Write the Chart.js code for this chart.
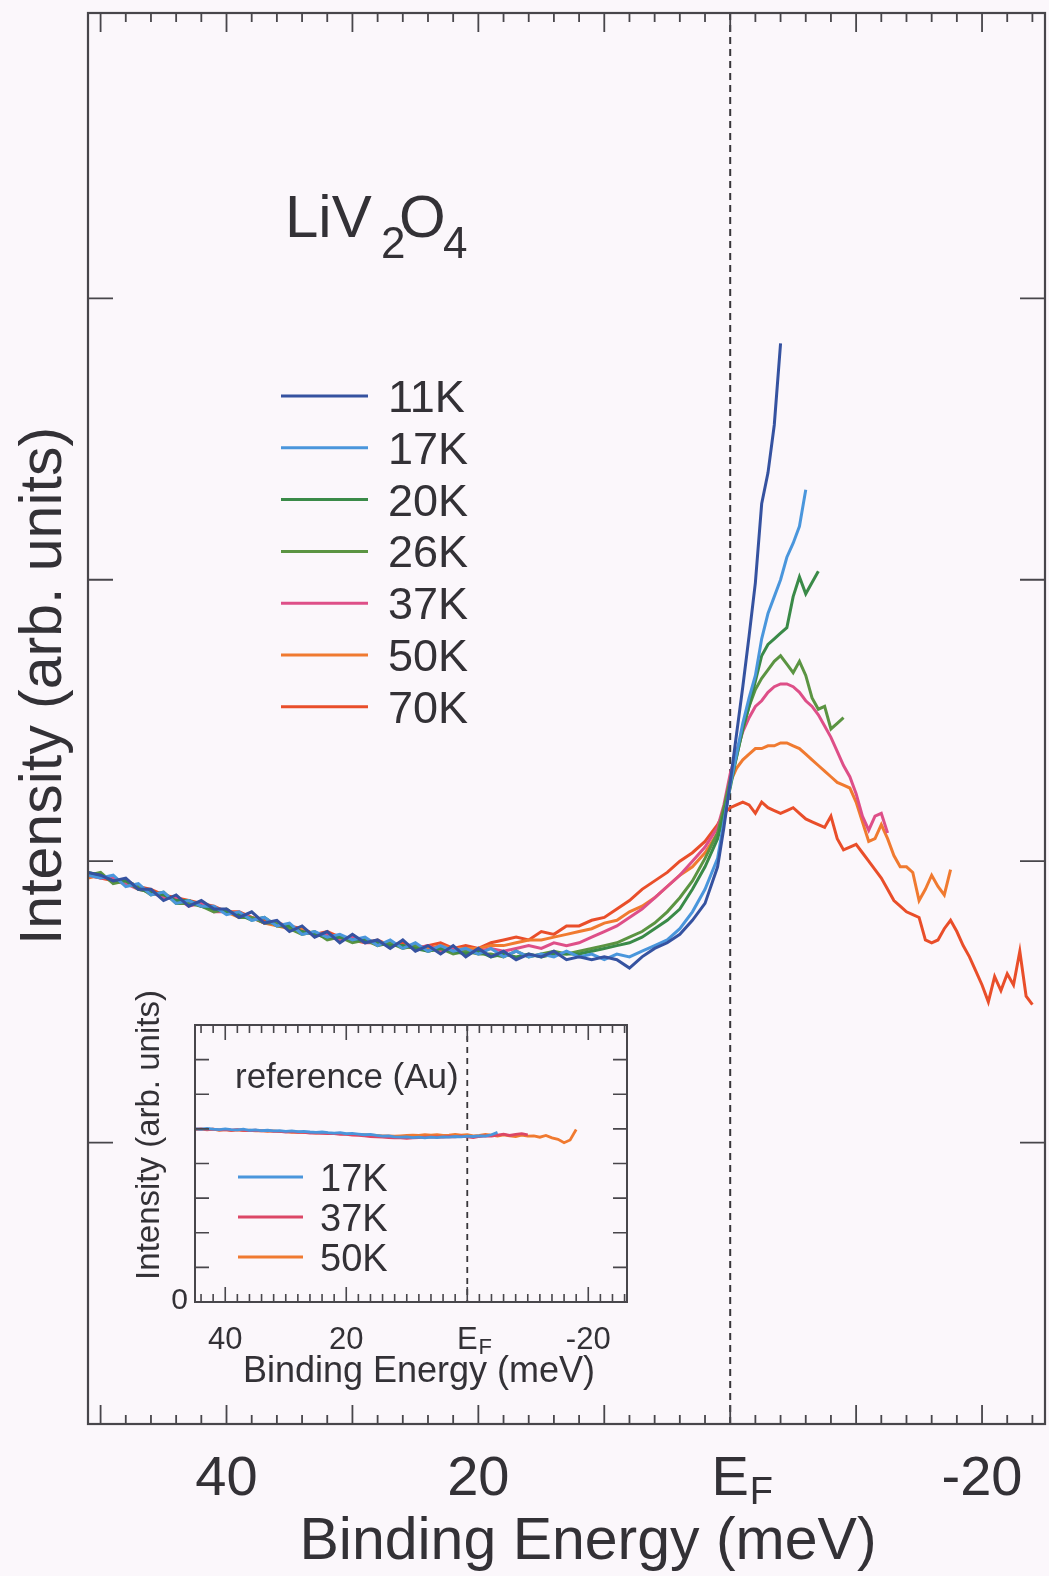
<!DOCTYPE html>
<html>
<head>
<meta charset="utf-8">
<script src="https://cdn.jsdelivr.net/npm/chart.js@4/dist/chart.umd.min.js"></script>
<style>
  body { margin: 0; background: #fbf7fb; }
  #wrap { position: relative; width: 1049px; height: 1576px; }
  #mainChart { position: absolute; left: 0; top: 0; }
  #insetChart { position: absolute; left: 120px; top: 990px; }
</style>
</head>
<body>
<div id="wrap">
  <canvas id="mainChart" width="1049" height="1576"></canvas>
  <canvas id="insetChart" width="530" height="400"></canvas>
</div>
<script>
// binding energy grid (meV), 1 meV steps down to 1, then 0.5 meV steps
const energy = [51,50,49,48,47,46,45,44,43,42,41,40,39,38,37,36,35,34,33,32,31,30,29,28,27,26,25,24,23,22,21,20,19,18,17,16,15,14,13,12,11,10,9,8,7,6,5,4,3,2,1,
  0.5,0,-0.5,-1,-1.5,-2,-2.5,-3,-3.5,-4,-4.5,-5,-5.5,-6,-6.5,-7,-7.5,-8,-8.5,-9,-9.5,-10,-10.5,-11,-11.5,-12,-12.5,-13,-13.5,-14,-14.5,-15,-15.5,-16,-16.5,-17,-17.5,-18,-18.5,-19,-19.5,-20,-20.5,-21,-21.5,-22,-22.5,-23,-23.5,-24];

// intensities (arb. units), main panel
const i11K = [1.96,1.95,1.93,1.94,1.90,1.90,1.86,1.88,1.84,1.86,
  1.83,1.83,1.80,1.82,1.78,1.79,1.75,1.77,1.73,1.75,
  1.71,1.74,1.71,1.72,1.69,1.72,1.68,1.70,1.67,1.70,
  1.66,1.69,1.66,1.68,1.65,1.67,1.66,1.68,1.65,
  1.66,1.65,1.66,1.65,1.62,1.66,1.69,1.71,1.74,1.79,1.85,1.98,
  2.12,2.28,2.45,2.62,2.80,2.99,3.27,3.38,3.55,3.84];
const i17K = [1.95,1.94,1.95,1.91,1.92,1.88,1.89,1.85,1.86,1.84,
  1.84,1.81,1.82,1.79,1.80,1.77,1.78,1.74,1.75,1.73,
  1.74,1.72,1.73,1.70,1.72,1.69,1.71,1.68,1.70,1.68,
  1.69,1.67,1.69,1.66,1.68,1.66,1.67,1.66,1.68,
  1.66,1.67,1.65,1.67,1.66,1.68,1.70,1.72,1.76,1.82,1.90,2.01,
  2.14,2.27,2.38,2.49,2.58,2.66,2.79,2.88,2.94,3.00,3.08,3.13,3.19,3.32];
const i20K = [1.96,1.95,1.93,1.93,1.90,1.89,1.88,1.86,1.86,1.84,
  1.83,1.82,1.81,1.79,1.80,1.77,1.77,1.75,1.74,1.73,
  1.73,1.72,1.72,1.71,1.70,1.70,1.69,1.68,1.69,1.68,
  1.67,1.68,1.66,1.67,1.66,1.67,1.66,1.67,1.67,
  1.67,1.68,1.69,1.70,1.71,1.73,1.76,1.79,1.83,1.90,1.98,2.08,
  2.17,2.26,2.37,2.47,2.55,2.64,2.73,2.77,2.79,2.81,2.83,2.94,3.01,2.95,2.99,3.03];
const i26K = [1.95,1.96,1.92,1.93,1.91,1.88,1.89,1.85,1.85,1.84,
  1.82,1.83,1.80,1.80,1.78,1.78,1.76,1.74,1.75,1.72,
  1.73,1.71,1.72,1.70,1.71,1.69,1.70,1.68,1.69,1.67,
  1.68,1.67,1.67,1.66,1.68,1.66,1.67,1.68,1.67,
  1.68,1.69,1.70,1.71,1.73,1.75,1.78,1.82,1.87,1.93,2.01,2.10,
  2.19,2.29,2.37,2.47,2.55,2.61,2.65,2.68,2.71,2.73,2.70,2.67,2.71,2.66,2.58,2.54,2.55,2.47,2.49,2.51];
const i37K = [1.95,1.94,1.94,1.92,1.90,1.89,1.87,1.87,1.84,1.85,
  1.82,1.82,1.81,1.80,1.78,1.78,1.76,1.75,1.74,1.74,
  1.72,1.73,1.71,1.71,1.70,1.70,1.69,1.70,1.68,1.69,
  1.68,1.68,1.69,1.68,1.69,1.70,1.69,1.71,1.70,
  1.71,1.73,1.75,1.77,1.80,1.83,1.87,1.91,1.95,2.00,2.05,2.12,
  2.20,2.31,2.39,2.46,2.51,2.55,2.57,2.60,2.62,2.63,2.63,2.62,2.60,2.57,2.55,2.52,2.48,2.44,2.39,2.34,2.30,2.24,2.16,2.11,2.16,2.17,2.10];
const i50K = [1.94,1.95,1.93,1.92,1.91,1.89,1.88,1.86,1.86,1.84,
  1.83,1.82,1.80,1.80,1.78,1.77,1.76,1.76,1.74,1.73,
  1.73,1.72,1.72,1.71,1.71,1.70,1.70,1.69,1.70,1.69,
  1.69,1.69,1.70,1.70,1.71,1.72,1.72,1.73,1.74,
  1.75,1.76,1.78,1.79,1.82,1.84,1.87,1.91,1.95,1.98,2.03,2.10,
  2.18,2.28,2.33,2.36,2.38,2.40,2.40,2.41,2.41,2.42,2.42,2.41,2.40,2.38,2.36,2.34,2.32,2.30,2.28,2.27,
  2.26,2.21,2.14,2.07,2.08,2.13,2.08,2.02,1.98,1.98,1.96,1.86,1.90,1.95,1.91,1.88,1.97];
const i70K = [1.95,1.94,1.93,1.93,1.91,1.90,1.88,1.87,1.86,1.85,
  1.84,1.82,1.82,1.80,1.79,1.78,1.77,1.76,1.74,1.75,
  1.73,1.72,1.71,1.72,1.70,1.71,1.69,1.70,1.71,1.69,
  1.70,1.69,1.71,1.72,1.73,1.72,1.75,1.74,1.77,
  1.77,1.79,1.80,1.83,1.86,1.90,1.93,1.96,2.00,2.03,2.07,2.13,
  2.17,2.19,2.20,2.21,2.20,2.17,2.21,2.19,2.18,2.17,2.18,2.19,2.17,2.15,2.14,2.13,2.12,2.16,2.08,2.04,
  2.05,2.06,2.03,2.00,1.97,1.94,1.90,1.86,1.84,1.82,1.81,1.80,1.72,1.71,1.72,1.76,1.79,1.75,1.70,1.66,
  1.61,1.56,1.50,1.59,1.54,1.60,1.56,1.68,1.52,1.49];

const tempLabels = ['11K','17K','20K','26K','37K','50K','70K'];
const tempSeries = [i11K, i17K, i20K, i26K, i37K, i50K, i70K];
const tempColors = ['#3552a0','#4a96dc','#3a8a48','#5b9442','#de4f88','#f07a30','#e94e2a'];

const xTickValues = [40, 20, 0, -20];
const xTickLabels = ['40', '20', 'E_F', '-20'];

// inset: gold reference
const insetEnergy = [45,44,43,42,41,40,39,38,37,36,35,34,33,32,31,30,29,28,27,26,25,24,23,22,21,20,19,18,17,16,
  15,14,13,12,11,10,9,8,7,6,5,4,3,2,1,0,-1,-2,-3,-4,-5,-6,-7,-8,-9,-10,-11,-12,-13,-14,-15,-16,-17,-18];
const au17K = [5.00,4.99,5.01,4.99,4.98,5.00,4.98,4.97,4.99,4.96,
  4.97,4.95,4.96,4.94,4.95,4.93,4.94,4.92,4.93,4.91,
  4.90,4.91,4.89,4.88,4.89,4.86,4.87,4.85,4.83,4.84,
  4.81,4.79,4.80,4.77,4.76,4.77,4.75,4.76,4.74,4.76,
  4.75,4.77,4.76,4.78,4.77,4.79,4.78,4.80,4.79,4.83,4.90];
const au37K = [4.99,5.00,4.98,4.99,4.97,4.98,4.96,4.98,4.96,4.95,
  4.96,4.94,4.95,4.93,4.93,4.91,4.92,4.90,4.90,4.88,
  4.88,4.87,4.86,4.86,4.84,4.84,4.82,4.81,4.80,4.78,
  4.77,4.76,4.75,4.74,4.74,4.73,4.74,4.75,4.76,4.76,
  4.77,4.76,4.78,4.77,4.79,4.77,4.75,4.78,4.80,4.79,4.82,4.85,4.81,4.84,4.86,4.83];
const au50K = [4.98,4.99,4.97,4.99,4.96,4.98,4.95,4.97,4.95,4.96,
  4.94,4.95,4.93,4.94,4.92,4.92,4.90,4.91,4.89,4.90,
  4.88,4.89,4.87,4.86,4.86,4.85,4.84,4.84,4.83,4.82,
  4.81,4.80,4.80,4.79,4.80,4.81,4.82,4.81,4.83,4.82,
  4.83,4.81,4.82,4.84,4.82,4.83,4.80,4.81,4.84,4.82,4.79,4.83,4.80,4.78,4.82,4.79,4.80,4.76,4.81,4.74,4.70,4.60,4.68,4.98];
const auLabels = ['17K','37K','50K'];
const auSeries = [au17K, au37K, au50K];
const auColors = ['#4a96dc','#dc4766','#f07a30'];

const BG = '#fbf7fb';
const INK = '#333136';
const FONT = "'Liberation Sans', Arial, Helvetica, sans-serif";

function toPoints(xs, ys) {
  return ys.map((y, i) => ({ x: xs[i], y: y }));
}

function drawEF(c, cx, baseY, size, subSize) {
  c.font = size + 'px ' + FONT;
  c.textAlign = 'left';
  const wE = c.measureText('E').width;
  c.fillText('E', cx - wE / 2, baseY);
  c.font = subSize + 'px ' + FONT;
  c.fillText('F', cx + wE / 2 + 1, baseY + size * 0.16);
}

function drawTickLabel(c, label, cx, baseY, size, subSize) {
  if (label === 'E_F') { drawEF(c, cx, baseY, size, subSize); return; }
  c.font = size + 'px ' + FONT;
  c.textAlign = 'center';
  c.fillText(label, cx, baseY);
}

// main panel decorations (frame, inward ticks, labels, legend)
const mainDecor = {
  id: 'mainDecor',
  beforeDraw(chart) {
    const c = chart.ctx;
    c.save(); c.fillStyle = BG; c.fillRect(0, 0, chart.width, chart.height); c.restore();
  },
  beforeDatasetsDraw(chart) {
    const { ctx: c, chartArea: a, scales: { x } } = chart;
    const px = x.getPixelForValue(0);
    c.save();
    c.strokeStyle = '#38363a'; c.lineWidth = 2; c.setLineDash([7, 5]);
    c.beginPath(); c.moveTo(px, a.top); c.lineTo(px, a.bottom); c.stroke();
    c.restore();
  },
  afterDatasetsDraw(chart) {
    const { ctx: c, chartArea: a, scales: { x, y } } = chart;
    c.save();
    c.strokeStyle = '#48464b'; c.lineWidth = 2.2;
    c.strokeRect(a.left, a.top, a.right - a.left, a.bottom - a.top);
    c.lineWidth = 1.8;
    c.beginPath();
    for (let v = -24; v <= 50; v += 2) {
      const px = x.getPixelForValue(v);
      const len = (v % 10 === 0) ? 19 : 9;
      c.moveTo(px, a.top); c.lineTo(px, a.top + len);
      c.moveTo(px, a.bottom); c.lineTo(px, a.bottom - len);
    }
    for (let v = 1; v <= 4; v++) {
      const py = y.getPixelForValue(v);
      c.moveTo(a.left, py); c.lineTo(a.left + 25, py);
      c.moveTo(a.right, py); c.lineTo(a.right - 25, py);
    }
    c.stroke();

    c.fillStyle = INK;
    c.textBaseline = 'alphabetic';
    xTickValues.forEach((v, i) => drawTickLabel(c, xTickLabels[i], x.getPixelForValue(v), 1495, 56, 38));

    c.font = '59px ' + FONT; c.textAlign = 'center';
    c.fillText('Binding Energy (meV)', 588, 1559);

    c.save();
    c.translate(61, 686); c.rotate(-Math.PI / 2);
    c.font = '59px ' + FONT; c.textAlign = 'center';
    c.fillText('Intensity (arb. units)', 0, 0);
    c.restore();

    // compound label
    c.textAlign = 'left';
    c.font = '60px ' + FONT; c.fillText('LiV', 285, 237); c.fillText('O', 399, 237);
    c.font = '44px ' + FONT; c.fillText('2', 381, 258); c.fillText('4', 443, 258);

    // legend
    chart.data.datasets.forEach((ds, i) => {
      const ry = 396 + i * 51.8;
      c.strokeStyle = ds.borderColor; c.lineWidth = 3;
      c.beginPath(); c.moveTo(281, ry); c.lineTo(368, ry); c.stroke();
      c.font = '45px ' + FONT; c.fillStyle = INK; c.textAlign = 'left';
      c.fillText(ds.label, 388, ry + 16);
    });
    c.restore();
  }
};

new Chart(document.getElementById('mainChart'), {
  type: 'line',
  data: {
    datasets: tempSeries.map((s, i) => ({
      label: tempLabels[i],
      data: toPoints(energy, s),
      borderColor: tempColors[i],
      borderWidth: 3,
      pointRadius: 0,
      tension: 0,
      fill: false
    }))
  },
  options: {
    responsive: false,
    animation: false,
    layout: { padding: { left: 88, right: 4, top: 13, bottom: 152 } },
    scales: {
      x: { type: 'linear', min: -25, max: 51, reverse: true, display: false },
      y: { type: 'linear', min: 0, max: 5.014, display: false }
    },
    plugins: { legend: { display: false }, tooltip: { enabled: false } }
  },
  plugins: [mainDecor]
});

// inset panel, canvas placed at page (120, 990)
const OX = 120, OY = 990;
const insetDecor = {
  id: 'insetDecor',
  beforeDraw(chart) {
    const c = chart.ctx;
    c.save(); c.fillStyle = BG; c.fillRect(0, 0, chart.width, chart.height); c.restore();
  },
  beforeDatasetsDraw(chart) {
    const { ctx: c, chartArea: a, scales: { x } } = chart;
    const px = x.getPixelForValue(0);
    c.save();
    c.strokeStyle = '#38363a'; c.lineWidth = 1.8; c.setLineDash([6, 5]);
    c.beginPath(); c.moveTo(px, a.top); c.lineTo(px, a.bottom); c.stroke();
    c.restore();
  },
  afterDatasetsDraw(chart) {
    const { ctx: c, chartArea: a, scales: { x, y } } = chart;
    c.save();
    c.strokeStyle = '#48464b'; c.lineWidth = 2;
    c.strokeRect(a.left, a.top, a.right - a.left, a.bottom - a.top);
    c.lineWidth = 1.6;
    c.beginPath();
    for (let v = -26; v <= 44; v += 2) {
      const px = x.getPixelForValue(v);
      const len = (v % 20 === 0) ? 15 : 8;
      c.moveTo(px, a.top); c.lineTo(px, a.top + len);
      c.moveTo(px, a.bottom); c.lineTo(px, a.bottom - len);
    }
    for (let v = 1; v <= 7; v++) {
      const py = y.getPixelForValue(v);
      c.moveTo(a.left, py); c.lineTo(a.left + 14, py);
      c.moveTo(a.right, py); c.lineTo(a.right - 14, py);
    }
    c.stroke();

    c.fillStyle = INK;
    c.textBaseline = 'alphabetic';
    xTickValues.forEach((v, i) => drawTickLabel(c, xTickLabels[i], x.getPixelForValue(v), 1349 - OY, 31, 22));

    c.font = '30px ' + FONT; c.textAlign = 'right';
    c.fillText('0', 188 - OX, 1309 - OY);

    c.font = '36px ' + FONT; c.textAlign = 'center';
    c.fillText('Binding Energy (meV)', 419 - OX, 1382 - OY);

    c.save();
    c.translate(159 - OX, 1135 - OY); c.rotate(-Math.PI / 2);
    c.font = '33px ' + FONT; c.textAlign = 'center';
    c.fillText('Intensity (arb. units)', 0, 0);
    c.restore();

    c.font = '35px ' + FONT; c.textAlign = 'left';
    c.fillText('reference (Au)', 235 - OX, 1088 - OY);

    chart.data.datasets.forEach((ds, i) => {
      const ry = 1177 + i * 40 - OY;
      c.strokeStyle = ds.borderColor; c.lineWidth = 3;
      c.beginPath(); c.moveTo(238 - OX, ry); c.lineTo(303 - OX, ry); c.stroke();
      c.font = '38px ' + FONT; c.fillStyle = INK; c.textAlign = 'left';
      c.fillText(ds.label, 320 - OX, ry + 14);
    });
    c.restore();
  }
};

new Chart(document.getElementById('insetChart'), {
  type: 'line',
  data: {
    datasets: auSeries.map((s, i) => ({
      label: auLabels[i],
      data: toPoints(insetEnergy, s),
      borderColor: auColors[i],
      borderWidth: 2.8,
      pointRadius: 0,
      tension: 0,
      fill: false
    }))
  },
  options: {
    responsive: false,
    animation: false,
    layout: { padding: { left: 75, right: 23, top: 35, bottom: 88 } },
    scales: {
      x: { type: 'linear', min: -26.4, max: 45, reverse: true, display: false },
      y: { type: 'linear', min: 0, max: 8, display: false }
    },
    plugins: { legend: { display: false }, tooltip: { enabled: false } }
  },
  plugins: [insetDecor]
});
</script>
</body>
</html>
